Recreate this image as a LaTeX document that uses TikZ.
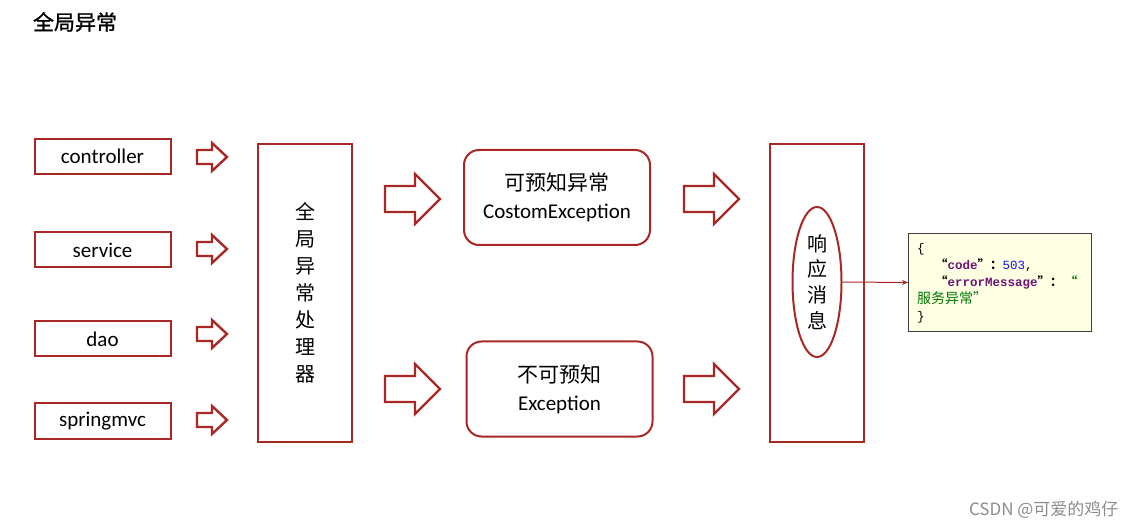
\documentclass[tikz,border=0pt]{standalone}
\usepackage{fontspec}
\setmainfont{Carlito}
\newfontfamily\cjk{Noto Sans CJK SC}
\newfontfamily\cjktitle[FakeBold=1.2]{Noto Sans CJK SC}
\newfontfamily\jsonfont{Liberation Mono}
\usepackage{tikz}
\usetikzlibrary{shapes.geometric, arrows.meta}

\definecolor{boxred}{RGB}{168,40,38}
\definecolor{jsonbg}{RGB}{255,255,228}
\definecolor{jsonkey}{RGB}{110,20,120}
\definecolor{jsonnum}{RGB}{20,20,235}
\definecolor{jsonstr}{RGB}{0,120,0}

% hohler Blockpfeil: x, y (Mitte), Laenge, Kopflaenge, Schaftbreite, Kopfbreite
\newcommand{\hollowarrow}[6]{%
	\draw[blockarrow] (#1,#2-#5/2) -- (#1+#3-#4,#2-#5/2) -- (#1+#3-#4,#2-#6/2) -- (#1+#3,#2)
		-- (#1+#3-#4,#2+#6/2) -- (#1+#3-#4,#2+#5/2) -- (#1,#2+#5/2) -- cycle;}

\begin{document}
\begin{tikzpicture}[x=1pt, y=-1pt,
			>={Stealth[length=6pt,width=5pt]},
			layer/.style={draw=boxred, line width=2pt, minimum width=136pt, minimum height=35pt, inner sep=0pt, font=\fontsize{21}{24}\selectfont},
			tallbox/.style={draw=boxred, line width=2pt, minimum width=94pt, minimum height=298pt, inner sep=0pt},
			roundbox/.style={draw=boxred, line width=2pt, rounded corners=15pt, minimum width=186pt, minimum height=95pt, inner sep=0pt, align=center, font=\fontsize{21}{28}\selectfont},
			blockarrow/.style={draw=boxred, line width=2.4pt, fill=white},
			vtext/.style={align=center, font=\cjk\fontsize{20}{27}\selectfont}]
			% Bildbereich
			\useasboundingbox (0,0) rectangle (1136,529);
			% Titel
			\node[font=\cjktitle\fontsize{21}{24}\selectfont] (title) at (75,22) {全局异常};
			% linke Schichten
			\node[layer] (ctl) at (102.5,156.5) {controller};
			\node[layer] (svc) at (102.5,250) {service};
			\node[layer] (dao) at (102.5,339) {dao};
			\node[layer] (mvc) at (102.5,421) {springmvc};
			\foreach \y in {157,249,334,420} \hollowarrow{197}{\y}{30}{15}{14}{28};
			% Handler
			\node[tallbox] (handler) at (305,293) {};
			\node[vtext] (handlertxt) at (handler.center) {全\\局\\异\\常\\处\\理\\器};
			\hollowarrow{385}{199}{55}{25}{26}{50}
			\hollowarrow{385}{389}{55}{25}{26}{50}
			% Ausnahmen
			\node[roundbox] (known) at (557,197.5) {{\cjk 可预知异常}\\CostomException};
			\node[roundbox] (unknown) at (559.5,389) {{\cjk 不可预知}\\Exception};
			\hollowarrow{684}{199}{55}{25}{26}{50}
			\hollowarrow{684}{389}{55}{25}{26}{50}
			% Antwort
			\node[tallbox] (resp) at (817,293) {};
			\node[draw=boxred, line width=2pt, ellipse, minimum width=49pt, minimum height=150pt, inner sep=0pt] (msg) at (817,282) {};
			\node[vtext, font=\cjk\fontsize{20}{25.7}\selectfont] (msgtxt) at (msg.center) {响\\应\\消\\息};
			% JSON
			\node[draw=black!75, line width=1pt, fill=jsonbg, minimum width=183pt, minimum height=98pt, inner sep=0pt] (json) at (1000,282.5) {};
			\node[anchor=north west, align=left, inner sep=0pt, font=\jsonfont\fontsize{12.5}{17}\selectfont] (jsontxt) at (917,243)
				{\{\\
				\hspace*{18pt}{\cjk\bfseries “}\textcolor{jsonkey}{\bfseries code}{\cjk\bfseries ”：}\textcolor{jsonnum}{503},\\
				\hspace*{18pt}{\cjk\bfseries “}\textcolor{jsonkey}{\bfseries errorMessage}{\cjk\bfseries ”：\,}\textcolor{jsonstr}{\cjk\bfseries “}\\
				\textcolor{jsonstr}{\cjk\fontsize{14}{17}\selectfont 服务异常”}\\
				\}};
			\draw[->, boxred, line width=1pt] (msg.east) -- (json.west);
			% Wasserzeichen
			\node[anchor=east, text=black!45, font=\cjk\fontsize{17}{20}\selectfont] (mark) at (1122,510) {CSDN @可爱的鸡仔};
		\end{tikzpicture}
\end{document}
